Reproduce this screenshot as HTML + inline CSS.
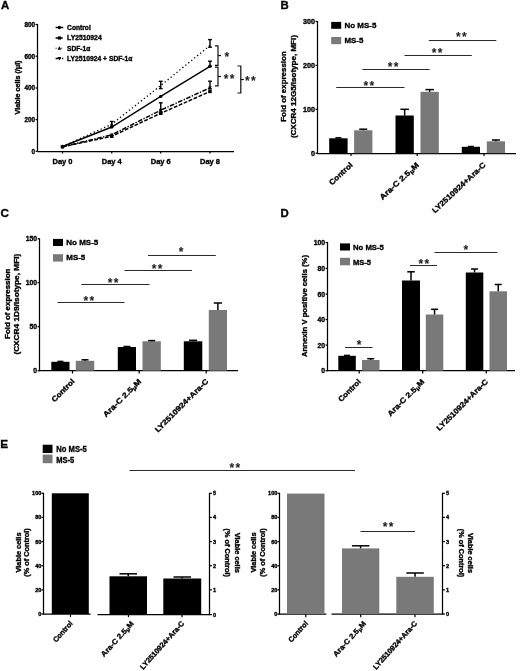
<!DOCTYPE html>
<html><head><meta charset="utf-8"><title>Figure</title>
<style>
html,body{margin:0;padding:0;background:#fff;}
body{width:520px;height:671px;overflow:hidden;}
svg{display:block;font-family:'Liberation Sans', sans-serif;}
</style></head><body>
<svg width="520" height="671" viewBox="0 0 520 671">
<defs><filter id="soft" x="0" y="0" width="520" height="671" filterUnits="userSpaceOnUse"><feGaussianBlur stdDeviation="0.35"/></filter></defs>
<rect x="0" y="0" width="520" height="671" fill="#fff"/>
<g filter="url(#soft)">
<text x="1.1" y="9.1" font-size="11.4" text-anchor="start" font-weight="bold" fill="#000" stroke="#000" stroke-width="0.35" >A</text>
<text x="280.4" y="8.95" font-size="11.4" text-anchor="start" font-weight="bold" fill="#000" stroke="#000" stroke-width="0.35" >B</text>
<text x="0.6" y="216.9" font-size="11.7" text-anchor="start" font-weight="bold" fill="#000" stroke="#000" stroke-width="0.35" >C</text>
<text x="280.4" y="216.9" font-size="11.4" text-anchor="start" font-weight="bold" fill="#000" stroke="#000" stroke-width="0.35" >D</text>
<text x="0.3" y="447.6" font-size="11.8" text-anchor="start" font-weight="bold" fill="#000" stroke="#000" stroke-width="0.35" >E</text>
<line x1="37.5" y1="24.0" x2="37.5" y2="151.8" stroke="#000" stroke-width="1.25" />
<line x1="35.6" y1="24.5" x2="37.5" y2="24.5" stroke="#000" stroke-width="1.25" />
<text x="35.1" y="26.8" font-size="6.4" text-anchor="end" font-weight="bold" fill="#000" stroke="#000" stroke-width="0.35" >800</text>
<line x1="35.6" y1="56.2" x2="37.5" y2="56.2" stroke="#000" stroke-width="1.25" />
<text x="35.1" y="58.5" font-size="6.4" text-anchor="end" font-weight="bold" fill="#000" stroke="#000" stroke-width="0.35" >600</text>
<line x1="35.6" y1="88" x2="37.5" y2="88" stroke="#000" stroke-width="1.25" />
<text x="35.1" y="90.3" font-size="6.4" text-anchor="end" font-weight="bold" fill="#000" stroke="#000" stroke-width="0.35" >400</text>
<line x1="35.6" y1="119.6" x2="37.5" y2="119.6" stroke="#000" stroke-width="1.25" />
<text x="35.1" y="121.9" font-size="6.4" text-anchor="end" font-weight="bold" fill="#000" stroke="#000" stroke-width="0.35" >200</text>
<line x1="35.6" y1="151.2" x2="37.5" y2="151.2" stroke="#000" stroke-width="1.25" />
<text x="35.1" y="153.5" font-size="6.4" text-anchor="end" font-weight="bold" fill="#000" stroke="#000" stroke-width="0.35" >0</text>
<line x1="37.4" y1="151.5" x2="234" y2="151.5" stroke="#000" stroke-width="1.25" />
<line x1="62.5" y1="151.3" x2="62.5" y2="153.5" stroke="#000" stroke-width="1.25" />
<text x="62.5" y="163.8" font-size="7.5" text-anchor="middle" font-weight="bold" fill="#000" stroke="#000" stroke-width="0.35" >Day 0</text>
<line x1="111.75" y1="151.3" x2="111.75" y2="153.5" stroke="#000" stroke-width="1.25" />
<text x="111.75" y="163.8" font-size="7.5" text-anchor="middle" font-weight="bold" fill="#000" stroke="#000" stroke-width="0.35" >Day 4</text>
<line x1="160.75" y1="151.3" x2="160.75" y2="153.5" stroke="#000" stroke-width="1.25" />
<text x="160.75" y="163.8" font-size="7.5" text-anchor="middle" font-weight="bold" fill="#000" stroke="#000" stroke-width="0.35" >Day 6</text>
<line x1="210" y1="151.3" x2="210" y2="153.5" stroke="#000" stroke-width="1.25" />
<text x="210" y="163.8" font-size="7.5" text-anchor="middle" font-weight="bold" fill="#000" stroke="#000" stroke-width="0.35" >Day 8</text>
<text x="19.8" y="87.5" font-size="7" text-anchor="middle" font-weight="bold" fill="#000" transform="rotate(-90 19.8 87.5)" textLength="54" lengthAdjust="spacingAndGlyphs" stroke="#000" stroke-width="0.35" >Viable cells (/μl)</text>
<polyline points="62.5,146.5 111.75,124.2 160.75,85.5 210,45.5" fill="none" stroke="#000" stroke-width="1.3" stroke-dasharray="1.3 2.5"/>
<polyline points="62.5,146.8 111.75,134.8 160.75,110.2 210,87.8" fill="none" stroke="#000" stroke-width="1.5" stroke-dasharray="4.6 1.5 1.3 1.5"/>
<polyline points="62.5,146.8 111.75,136.3 160.75,113.3 210,91.5" fill="none" stroke="#000" stroke-width="1.5" stroke-dasharray="3.8 1.6"/>
<polyline points="62.5,146.5 111.75,127 160.75,96.4 210,66.3" fill="none" stroke="#000" stroke-width="1.4"/>
<line x1="111.75" y1="121.5" x2="111.75" y2="126.5" stroke="#000" stroke-width="1.4" />
<line x1="109.85" y1="121.5" x2="113.65" y2="121.5" stroke="#000" stroke-width="1.4" />
<line x1="109.85" y1="126.5" x2="113.65" y2="126.5" stroke="#000" stroke-width="1.4" />
<line x1="160.75" y1="81.3" x2="160.75" y2="88.6" stroke="#000" stroke-width="1.4" />
<line x1="158.85" y1="81.3" x2="162.65" y2="81.3" stroke="#000" stroke-width="1.4" />
<line x1="158.85" y1="88.6" x2="162.65" y2="88.6" stroke="#000" stroke-width="1.4" />
<line x1="210" y1="39.6" x2="210" y2="47.2" stroke="#000" stroke-width="1.4" />
<line x1="208.1" y1="39.6" x2="211.9" y2="39.6" stroke="#000" stroke-width="1.4" />
<line x1="208.1" y1="47.2" x2="211.9" y2="47.2" stroke="#000" stroke-width="1.4" />
<line x1="210" y1="61.2" x2="210" y2="66.3" stroke="#000" stroke-width="1.4" />
<line x1="208.1" y1="61.2" x2="211.9" y2="61.2" stroke="#000" stroke-width="1.4" />
<line x1="208.1" y1="66.3" x2="211.9" y2="66.3" stroke="#000" stroke-width="1.4" />
<line x1="160.75" y1="102.8" x2="160.75" y2="112" stroke="#000" stroke-width="1.4" />
<line x1="158.85" y1="102.8" x2="162.65" y2="102.8" stroke="#000" stroke-width="1.4" />
<line x1="158.85" y1="112" x2="162.65" y2="112" stroke="#000" stroke-width="1.4" />
<line x1="210" y1="81.2" x2="210" y2="88.8" stroke="#000" stroke-width="1.4" />
<line x1="208.1" y1="81.2" x2="211.9" y2="81.2" stroke="#000" stroke-width="1.4" />
<line x1="208.1" y1="88.8" x2="211.9" y2="88.8" stroke="#000" stroke-width="1.4" />
<circle cx="62.5" cy="146.5" r="1.7" fill="#000"/>
<circle cx="111.75" cy="127" r="1.7" fill="#000"/>
<circle cx="160.75" cy="96.4" r="1.7" fill="#000"/>
<circle cx="210" cy="66.3" r="1.7" fill="#000"/>
<rect x="60.8" y="145.1" width="3.4" height="3.4" fill="#000"/>
<rect x="110.05" y="134.6" width="3.4" height="3.4" fill="#000"/>
<rect x="159.05" y="111.6" width="3.4" height="3.4" fill="#000"/>
<rect x="208.3" y="89.8" width="3.4" height="3.4" fill="#000"/>
<polygon points="62.5,144.5 60.7,147.9 64.3,147.9" fill="#000"/>
<polygon points="111.75,122.2 109.95,125.6 113.55,125.6" fill="#000"/>
<polygon points="62.5,148.8 60.7,145.4 64.3,145.4" fill="#000"/>
<polygon points="111.75,136.8 109.95,133.4 113.55,133.4" fill="#000"/>
<polygon points="160.75,112.2 158.95,108.8 162.55,108.8" fill="#000"/>
<polygon points="210,89.8 208.2,86.4 211.8,86.4" fill="#000"/>
<polyline points="215,45.8 218,45.8 218,65.3 215,65.3" fill="none" stroke="#111" stroke-width="1.2"/>
<line x1="218" y1="55.55" x2="221" y2="55.55" stroke="#111" stroke-width="1.2" />
<polyline points="215,67.2 218,67.2 218,85.8 215,85.8" fill="none" stroke="#111" stroke-width="1.2"/>
<line x1="218" y1="76.5" x2="221" y2="76.5" stroke="#111" stroke-width="1.2" />
<polyline points="237.5,66 240.8,66 240.8,93 237.5,93" fill="none" stroke="#111" stroke-width="1.2"/>
<line x1="240.8" y1="79.5" x2="243.8" y2="79.5" stroke="#111" stroke-width="1.2" />
<text x="226.8" y="60.52" font-size="12" text-anchor="middle" font-weight="bold" fill="#1a1a1a" stroke="#1a1a1a" stroke-width="0.1" >*</text>
<text x="229.7" y="82.72" font-size="12" text-anchor="middle" font-weight="bold" fill="#1a1a1a" stroke="#1a1a1a" stroke-width="0.1" letter-spacing="1.4" >**</text>
<text x="251.0" y="85.12" font-size="12" text-anchor="middle" font-weight="bold" fill="#1a1a1a" stroke="#1a1a1a" stroke-width="0.1" letter-spacing="1.4" >**</text>
<line x1="55.6" y1="27.5" x2="63.3" y2="27.5" stroke="#000" stroke-width="1.4" />
<circle cx="59.4" cy="27.5" r="1.7" fill="#000"/>
<line x1="55.6" y1="38" x2="63.3" y2="38" stroke="#000" stroke-width="1.3" stroke-dasharray="3 1.2"/>
<rect x="57.8" y="36.4" width="3.2" height="3.2" fill="#000"/>
<line x1="55.6" y1="48.3" x2="63.3" y2="48.3" stroke="#000" stroke-width="1.1" stroke-dasharray="1 1.8"/>
<polygon points="59.4,46.3 57.6,49.7 61.2,49.7" fill="#000"/>
<line x1="55.6" y1="58.5" x2="63.3" y2="58.5" stroke="#000" stroke-width="1.3" stroke-dasharray="3 1.2 1 1.2"/>
<polygon points="59.4,60.5 57.6,57.1 61.2,57.1" fill="#000"/>
<text x="67.1" y="29.9" font-size="6.7" text-anchor="start" font-weight="bold" fill="#000" textLength="23.7" lengthAdjust="spacingAndGlyphs" stroke="#000" stroke-width="0.35" >Control</text>
<text x="67.1" y="40.4" font-size="6.7" text-anchor="start" font-weight="bold" fill="#000" textLength="34.6" lengthAdjust="spacingAndGlyphs" stroke="#000" stroke-width="0.35" >LY2510924</text>
<text x="67.1" y="50.7" font-size="6.7" text-anchor="start" font-weight="bold" fill="#000" textLength="23.2" lengthAdjust="spacingAndGlyphs" stroke="#000" stroke-width="0.35" >SDF-1α</text>
<text x="67.1" y="60.9" font-size="6.7" text-anchor="start" font-weight="bold" fill="#000" textLength="65.4" lengthAdjust="spacingAndGlyphs" stroke="#000" stroke-width="0.35" >LY2510924 + SDF-1α</text>
<line x1="317.5" y1="21.0" x2="317.5" y2="153.7" stroke="#000" stroke-width="1.25" />
<line x1="315.6" y1="21.5" x2="317.5" y2="21.5" stroke="#000" stroke-width="1.25" />
<text x="315.1" y="24.09" font-size="7.2" text-anchor="end" font-weight="bold" fill="#000" stroke="#000" stroke-width="0.35" >300</text>
<line x1="315.6" y1="65.4" x2="317.5" y2="65.4" stroke="#000" stroke-width="1.25" />
<text x="315.1" y="67.99" font-size="7.2" text-anchor="end" font-weight="bold" fill="#000" stroke="#000" stroke-width="0.35" >200</text>
<line x1="315.6" y1="109.3" x2="317.5" y2="109.3" stroke="#000" stroke-width="1.25" />
<text x="315.1" y="111.89" font-size="7.2" text-anchor="end" font-weight="bold" fill="#000" stroke="#000" stroke-width="0.35" >100</text>
<line x1="315.6" y1="153.2" x2="317.5" y2="153.2" stroke="#000" stroke-width="1.25" />
<text x="315.1" y="155.79" font-size="7.2" text-anchor="end" font-weight="bold" fill="#000" stroke="#000" stroke-width="0.35" >0</text>
<line x1="317.1" y1="153.5" x2="516" y2="153.5" stroke="#000" stroke-width="1.25" />
<rect x="329.2" y="138.3" width="18.4" height="14.9" fill="#000"/>
<line x1="338.4" y1="138.3" x2="338.4" y2="137.8" stroke="#000" stroke-width="1.5" />
<line x1="335.4" y1="137.8" x2="341.4" y2="137.8" stroke="#000" stroke-width="1.5" />
<rect x="354.1" y="130.3" width="18.3" height="22.9" fill="#797979"/>
<line x1="363.25" y1="130.3" x2="363.25" y2="129.2" stroke="#000" stroke-width="1.5" />
<line x1="359.25" y1="129.2" x2="367.25" y2="129.2" stroke="#000" stroke-width="1.5" />
<rect x="395.5" y="115.5" width="18.3" height="37.7" fill="#000"/>
<line x1="404.65" y1="115.5" x2="404.65" y2="109.3" stroke="#000" stroke-width="1.5" />
<line x1="400.4" y1="109.3" x2="408.9" y2="109.3" stroke="#000" stroke-width="1.5" />
<rect x="420.5" y="91.8" width="18.3" height="61.4" fill="#797979"/>
<line x1="429.65" y1="91.8" x2="429.65" y2="89.6" stroke="#000" stroke-width="1.5" />
<line x1="425.4" y1="89.6" x2="433.9" y2="89.6" stroke="#000" stroke-width="1.5" />
<rect x="461.8" y="146.8" width="18.2" height="6.4" fill="#000"/>
<line x1="470.9" y1="146.8" x2="470.9" y2="146.5" stroke="#000" stroke-width="1.5" />
<line x1="467.9" y1="146.5" x2="473.9" y2="146.5" stroke="#000" stroke-width="1.5" />
<rect x="486.8" y="141.3" width="18.2" height="11.9" fill="#797979"/>
<line x1="495.9" y1="141.3" x2="495.9" y2="140" stroke="#000" stroke-width="1.5" />
<line x1="491.9" y1="140" x2="499.9" y2="140" stroke="#000" stroke-width="1.5" />
<line x1="336.2" y1="87.5" x2="404.5" y2="87.5" stroke="#2a2a2a" stroke-width="1.0" />
<text x="369.5" y="89.52" font-size="12" text-anchor="middle" font-weight="bold" fill="#1a1a1a" stroke="#1a1a1a" stroke-width="0.1" letter-spacing="1.4" >**</text>
<line x1="362.4" y1="69.5" x2="429.5" y2="69.5" stroke="#2a2a2a" stroke-width="1.0" />
<text x="393.7" y="71.32" font-size="12" text-anchor="middle" font-weight="bold" fill="#1a1a1a" stroke="#1a1a1a" stroke-width="0.1" letter-spacing="1.4" >**</text>
<line x1="404.5" y1="55.5" x2="471.8" y2="55.5" stroke="#2a2a2a" stroke-width="1.0" />
<text x="437.7" y="57.22" font-size="12" text-anchor="middle" font-weight="bold" fill="#1a1a1a" stroke="#1a1a1a" stroke-width="0.1" letter-spacing="1.4" >**</text>
<line x1="428.8" y1="40.5" x2="496.3" y2="40.5" stroke="#2a2a2a" stroke-width="1.0" />
<text x="462.0" y="40.52" font-size="12" text-anchor="middle" font-weight="bold" fill="#1a1a1a" stroke="#1a1a1a" stroke-width="0.1" letter-spacing="1.4" >**</text>
<rect x="331.2" y="21.9" width="10" height="6.9" fill="#000"/>
<rect x="331.2" y="37" width="10" height="7.2" fill="#797979"/>
<text x="344.5" y="28.1" font-size="8" text-anchor="start" font-weight="bold" fill="#000" textLength="31.8" lengthAdjust="spacingAndGlyphs" stroke="#000" stroke-width="0.35" >No MS-5</text>
<text x="344.5" y="43.3" font-size="8" text-anchor="start" font-weight="bold" fill="#000" textLength="18.8" lengthAdjust="spacingAndGlyphs" stroke="#000" stroke-width="0.35" >MS-5</text>
<text x="286.4" y="86.5" font-size="7.5" text-anchor="middle" font-weight="bold" fill="#000" transform="rotate(-90 286.4 86.5)" textLength="70.5" lengthAdjust="spacingAndGlyphs" stroke="#000" stroke-width="0.35" >Fold of expression</text>
<text x="296.0" y="86.6" font-size="7.5" text-anchor="middle" font-weight="bold" fill="#000" transform="rotate(-90 296.0 86.6)" textLength="103" lengthAdjust="spacingAndGlyphs" stroke="#000" stroke-width="0.35" >(CXCR4 12G5/isotype, MFI)</text>
<line x1="351" y1="153.2" x2="351" y2="156.0" stroke="#000" stroke-width="1.25" />
<text x="353.2" y="165.7" font-size="7.6" text-anchor="end" font-weight="bold" fill="#000" transform="rotate(-43 353.2 165.7)" textLength="29" lengthAdjust="spacingAndGlyphs" stroke="#000" stroke-width="0.35" >Control</text>
<line x1="417.2" y1="153.2" x2="417.2" y2="156.0" stroke="#000" stroke-width="1.25" />
<text x="419.4" y="165.7" font-size="7.6" text-anchor="end" font-weight="bold" fill="#000" transform="rotate(-43 419.4 165.7)" textLength="50.5" lengthAdjust="spacingAndGlyphs" stroke="#000" stroke-width="0.35" >Ara-C 2.5<tspan font-size="75%" dy="1">μ</tspan><tspan dy="-1">M</tspan></text>
<line x1="484" y1="153.2" x2="484" y2="156.0" stroke="#000" stroke-width="1.25" />
<text x="486.2" y="165.7" font-size="7.6" text-anchor="end" font-weight="bold" fill="#000" transform="rotate(-43 486.2 165.7)" textLength="70" lengthAdjust="spacingAndGlyphs" stroke="#000" stroke-width="0.35" >LY2510924+Ara-C</text>
<line x1="39.5" y1="238.3" x2="39.5" y2="371.2" stroke="#000" stroke-width="1.25" />
<line x1="37.6" y1="238.8" x2="39.5" y2="238.8" stroke="#000" stroke-width="1.25" />
<text x="37.1" y="241.25" font-size="6.8" text-anchor="end" font-weight="bold" fill="#000" stroke="#000" stroke-width="0.35" >150</text>
<line x1="37.6" y1="282.6" x2="39.5" y2="282.6" stroke="#000" stroke-width="1.25" />
<text x="37.1" y="285.05" font-size="6.8" text-anchor="end" font-weight="bold" fill="#000" stroke="#000" stroke-width="0.35" >100</text>
<line x1="37.6" y1="326.6" x2="39.5" y2="326.6" stroke="#000" stroke-width="1.25" />
<text x="37.1" y="329.05" font-size="6.8" text-anchor="end" font-weight="bold" fill="#000" stroke="#000" stroke-width="0.35" >50</text>
<line x1="37.6" y1="370.7" x2="39.5" y2="370.7" stroke="#000" stroke-width="1.25" />
<text x="37.1" y="373.15" font-size="6.8" text-anchor="end" font-weight="bold" fill="#000" stroke="#000" stroke-width="0.35" >0</text>
<line x1="39.1" y1="370.5" x2="238" y2="370.5" stroke="#000" stroke-width="1.25" />
<rect x="51.3" y="361.8" width="18.2" height="8.9" fill="#000"/>
<line x1="60.4" y1="361.8" x2="60.4" y2="361.4" stroke="#000" stroke-width="1.5" />
<line x1="57.4" y1="361.4" x2="63.4" y2="361.4" stroke="#000" stroke-width="1.5" />
<rect x="75.8" y="360.8" width="18.4" height="9.9" fill="#797979"/>
<line x1="85.0" y1="360.8" x2="85.0" y2="359.8" stroke="#000" stroke-width="1.5" />
<line x1="81.5" y1="359.8" x2="88.5" y2="359.8" stroke="#000" stroke-width="1.5" />
<rect x="117.8" y="347" width="18.2" height="23.7" fill="#000"/>
<line x1="126.9" y1="347" x2="126.9" y2="346.5" stroke="#000" stroke-width="1.5" />
<line x1="123.4" y1="346.5" x2="130.4" y2="346.5" stroke="#000" stroke-width="1.5" />
<rect x="142.5" y="341.3" width="18.3" height="29.4" fill="#797979"/>
<line x1="151.65" y1="341.3" x2="151.65" y2="340.6" stroke="#000" stroke-width="1.5" />
<line x1="148.15" y1="340.6" x2="155.15" y2="340.6" stroke="#000" stroke-width="1.5" />
<rect x="183.8" y="341.3" width="18.5" height="29.4" fill="#000"/>
<line x1="193.05" y1="341.3" x2="193.05" y2="340.3" stroke="#000" stroke-width="1.5" />
<line x1="189.05" y1="340.3" x2="197.05" y2="340.3" stroke="#000" stroke-width="1.5" />
<rect x="208.8" y="310" width="18.2" height="60.7" fill="#797979"/>
<line x1="217.9" y1="310" x2="217.9" y2="303" stroke="#000" stroke-width="1.5" />
<line x1="213.75" y1="303" x2="222.05" y2="303" stroke="#000" stroke-width="1.5" />
<line x1="57.5" y1="302.5" x2="124.5" y2="302.5" stroke="#2a2a2a" stroke-width="1.0" />
<text x="89.5" y="304.52" font-size="12" text-anchor="middle" font-weight="bold" fill="#1a1a1a" stroke="#1a1a1a" stroke-width="0.1" letter-spacing="1.4" >**</text>
<line x1="81.3" y1="284.5" x2="149.5" y2="284.5" stroke="#2a2a2a" stroke-width="1.0" />
<text x="113.7" y="286.52" font-size="12" text-anchor="middle" font-weight="bold" fill="#1a1a1a" stroke="#1a1a1a" stroke-width="0.1" letter-spacing="1.4" >**</text>
<line x1="124.5" y1="270.5" x2="192" y2="270.5" stroke="#2a2a2a" stroke-width="1.0" />
<text x="157.7" y="272.82" font-size="12" text-anchor="middle" font-weight="bold" fill="#1a1a1a" stroke="#1a1a1a" stroke-width="0.1" letter-spacing="1.4" >**</text>
<line x1="148" y1="255.5" x2="215.8" y2="255.5" stroke="#2a2a2a" stroke-width="1.0" />
<text x="181" y="255.72" font-size="12" text-anchor="middle" font-weight="bold" fill="#1a1a1a" stroke="#1a1a1a" stroke-width="0.1" >*</text>
<rect x="53" y="238.9" width="10" height="7.1" fill="#000"/>
<rect x="53" y="254.2" width="10" height="7.4" fill="#797979"/>
<text x="66.3" y="245.4" font-size="8" text-anchor="start" font-weight="bold" fill="#000" textLength="32" lengthAdjust="spacingAndGlyphs" stroke="#000" stroke-width="0.35" >No MS-5</text>
<text x="66.3" y="260.4" font-size="8" text-anchor="start" font-weight="bold" fill="#000" textLength="19" lengthAdjust="spacingAndGlyphs" stroke="#000" stroke-width="0.35" >MS-5</text>
<text x="9.7" y="303.8" font-size="7.3" text-anchor="middle" font-weight="bold" fill="#000" transform="rotate(-90 9.7 303.8)" textLength="70.3" lengthAdjust="spacingAndGlyphs" stroke="#000" stroke-width="0.35" >Fold of expression</text>
<text x="18.8" y="304.2" font-size="7.3" text-anchor="middle" font-weight="bold" fill="#000" transform="rotate(-90 18.8 304.2)" textLength="100.8" lengthAdjust="spacingAndGlyphs" stroke="#000" stroke-width="0.35" >(CXCR4 1D9/isotype, MFI)</text>
<line x1="72.5" y1="370.7" x2="72.5" y2="373.5" stroke="#000" stroke-width="1.25" />
<text x="75.1" y="381.9" font-size="7.4" text-anchor="end" font-weight="bold" fill="#000" transform="rotate(-45 75.1 381.9)" textLength="29" lengthAdjust="spacingAndGlyphs" stroke="#000" stroke-width="0.35" >Control</text>
<line x1="139.2" y1="370.7" x2="139.2" y2="373.5" stroke="#000" stroke-width="1.25" />
<text x="141.8" y="381.9" font-size="7.4" text-anchor="end" font-weight="bold" fill="#000" transform="rotate(-45 141.8 381.9)" textLength="50.5" lengthAdjust="spacingAndGlyphs" stroke="#000" stroke-width="0.35" >Ara-C 2.5<tspan font-size="75%" dy="1">μ</tspan><tspan dy="-1">M</tspan></text>
<line x1="206.2" y1="370.7" x2="206.2" y2="373.5" stroke="#000" stroke-width="1.25" />
<text x="208.8" y="381.9" font-size="7.4" text-anchor="end" font-weight="bold" fill="#000" transform="rotate(-45 208.8 381.9)" textLength="72" lengthAdjust="spacingAndGlyphs" stroke="#000" stroke-width="0.35" >LY2510924+Ara-C</text>
<line x1="327.5" y1="242.0" x2="327.5" y2="371.2" stroke="#000" stroke-width="1.25" />
<line x1="325.6" y1="242.5" x2="327.5" y2="242.5" stroke="#000" stroke-width="1.25" />
<text x="325.1" y="244.95" font-size="6.8" text-anchor="end" font-weight="bold" fill="#000" stroke="#000" stroke-width="0.35" >100</text>
<line x1="325.6" y1="268.4" x2="327.5" y2="268.4" stroke="#000" stroke-width="1.25" />
<text x="325.1" y="270.85" font-size="6.8" text-anchor="end" font-weight="bold" fill="#000" stroke="#000" stroke-width="0.35" >80</text>
<line x1="325.6" y1="294.1" x2="327.5" y2="294.1" stroke="#000" stroke-width="1.25" />
<text x="325.1" y="296.55" font-size="6.8" text-anchor="end" font-weight="bold" fill="#000" stroke="#000" stroke-width="0.35" >60</text>
<line x1="325.6" y1="319.5" x2="327.5" y2="319.5" stroke="#000" stroke-width="1.25" />
<text x="325.1" y="321.95" font-size="6.8" text-anchor="end" font-weight="bold" fill="#000" stroke="#000" stroke-width="0.35" >40</text>
<line x1="325.6" y1="345.1" x2="327.5" y2="345.1" stroke="#000" stroke-width="1.25" />
<text x="325.1" y="347.55" font-size="6.8" text-anchor="end" font-weight="bold" fill="#000" stroke="#000" stroke-width="0.35" >20</text>
<line x1="325.6" y1="370.7" x2="327.5" y2="370.7" stroke="#000" stroke-width="1.25" />
<text x="325.1" y="373.15" font-size="6.8" text-anchor="end" font-weight="bold" fill="#000" stroke="#000" stroke-width="0.35" >0</text>
<line x1="326.7" y1="370.5" x2="515" y2="370.5" stroke="#000" stroke-width="1.25" />
<rect x="338.3" y="355.8" width="17.5" height="14.9" fill="#000"/>
<line x1="347.05" y1="355.8" x2="347.05" y2="355.4" stroke="#000" stroke-width="1.5" />
<line x1="344.05" y1="355.4" x2="350.05" y2="355.4" stroke="#000" stroke-width="1.5" />
<rect x="362" y="360" width="17.5" height="10.7" fill="#797979"/>
<line x1="370.75" y1="360" x2="370.75" y2="358.7" stroke="#000" stroke-width="1.5" />
<line x1="367.25" y1="358.7" x2="374.25" y2="358.7" stroke="#000" stroke-width="1.5" />
<rect x="402" y="280.5" width="18" height="90.2" fill="#000"/>
<line x1="411.0" y1="280.5" x2="411.0" y2="271.8" stroke="#000" stroke-width="1.5" />
<line x1="407.25" y1="271.8" x2="414.75" y2="271.8" stroke="#000" stroke-width="1.5" />
<rect x="425.8" y="314.5" width="17.5" height="56.2" fill="#797979"/>
<line x1="434.55" y1="314.5" x2="434.55" y2="309.3" stroke="#000" stroke-width="1.5" />
<line x1="431.05" y1="309.3" x2="438.05" y2="309.3" stroke="#000" stroke-width="1.5" />
<rect x="465.8" y="272.5" width="17.5" height="98.2" fill="#000"/>
<line x1="474.55" y1="272.5" x2="474.55" y2="269" stroke="#000" stroke-width="1.5" />
<line x1="471.05" y1="269" x2="478.05" y2="269" stroke="#000" stroke-width="1.5" />
<rect x="489.5" y="291.3" width="17.5" height="79.4" fill="#797979"/>
<line x1="498.25" y1="291.3" x2="498.25" y2="284.5" stroke="#000" stroke-width="1.5" />
<line x1="494.75" y1="284.5" x2="501.75" y2="284.5" stroke="#000" stroke-width="1.5" />
<line x1="345" y1="347.5" x2="372.5" y2="347.5" stroke="#2a2a2a" stroke-width="1.0" />
<text x="359.2" y="348.82" font-size="12" text-anchor="middle" font-weight="bold" fill="#1a1a1a" stroke="#1a1a1a" stroke-width="0.1" >*</text>
<line x1="410" y1="265.5" x2="437" y2="265.5" stroke="#2a2a2a" stroke-width="1.0" />
<text x="424.5" y="268.02" font-size="12" text-anchor="middle" font-weight="bold" fill="#1a1a1a" stroke="#1a1a1a" stroke-width="0.1" letter-spacing="1.4" >**</text>
<line x1="434.5" y1="252.5" x2="497.5" y2="252.5" stroke="#2a2a2a" stroke-width="1.0" />
<text x="465.8" y="254.02" font-size="12" text-anchor="middle" font-weight="bold" fill="#1a1a1a" stroke="#1a1a1a" stroke-width="0.1" >*</text>
<rect x="340" y="243.4" width="10" height="7.1" fill="#000"/>
<rect x="340" y="257.8" width="10" height="7.5" fill="#797979"/>
<text x="353" y="249.5" font-size="7.7" text-anchor="start" font-weight="bold" fill="#000" textLength="30.8" lengthAdjust="spacingAndGlyphs" stroke="#000" stroke-width="0.35" >No MS-5</text>
<text x="353" y="264.5" font-size="7.7" text-anchor="start" font-weight="bold" fill="#000" textLength="18" lengthAdjust="spacingAndGlyphs" stroke="#000" stroke-width="0.35" >MS-5</text>
<text x="306.8" y="306" font-size="7.3" text-anchor="middle" font-weight="bold" fill="#000" transform="rotate(-90 306.8 306)" textLength="102" lengthAdjust="spacingAndGlyphs" stroke="#000" stroke-width="0.35" >Annexin V positive cells (%)</text>
<line x1="359.2" y1="370.7" x2="359.2" y2="373.5" stroke="#000" stroke-width="1.25" />
<text x="361.4" y="382.2" font-size="7.5" text-anchor="end" font-weight="bold" fill="#000" transform="rotate(-45 361.4 382.2)" textLength="28.5" lengthAdjust="spacingAndGlyphs" stroke="#000" stroke-width="0.35" >Control</text>
<line x1="422.7" y1="370.7" x2="422.7" y2="373.5" stroke="#000" stroke-width="1.25" />
<text x="424.9" y="382.2" font-size="7.5" text-anchor="end" font-weight="bold" fill="#000" transform="rotate(-45 424.9 382.2)" textLength="48.8" lengthAdjust="spacingAndGlyphs" stroke="#000" stroke-width="0.35" >Ara-C 2.5<tspan font-size="75%" dy="1">μ</tspan><tspan dy="-1">M</tspan></text>
<line x1="486.3" y1="370.7" x2="486.3" y2="373.5" stroke="#000" stroke-width="1.25" />
<text x="488.5" y="382.2" font-size="7.5" text-anchor="end" font-weight="bold" fill="#000" transform="rotate(-45 488.5 382.2)" textLength="69.2" lengthAdjust="spacingAndGlyphs" stroke="#000" stroke-width="0.35" >LY2510924+Ara-C</text>
<rect x="42.7" y="444.7" width="9.8" height="8.3" fill="#000"/>
<rect x="42.7" y="454.6" width="9.8" height="8.6" fill="#797979"/>
<text x="56.3" y="452.1" font-size="8.8" text-anchor="start" font-weight="bold" fill="#000" textLength="30.5" lengthAdjust="spacingAndGlyphs" stroke="#000" stroke-width="0.35" >No MS-5</text>
<text x="56.3" y="462.6" font-size="8.8" text-anchor="start" font-weight="bold" fill="#000" textLength="18" lengthAdjust="spacingAndGlyphs" stroke="#000" stroke-width="0.35" >MS-5</text>
<line x1="129.5" y1="470.5" x2="355" y2="470.5" stroke="#2a2a2a" stroke-width="1.0" />
<text x="235.5" y="471.52" font-size="12" text-anchor="middle" font-weight="bold" fill="#1a1a1a" stroke="#1a1a1a" stroke-width="0.1" letter-spacing="1.4" >**</text>
<line x1="43.5" y1="492.8" x2="43.5" y2="614.5" stroke="#000" stroke-width="1.25" />
<line x1="41.5" y1="493.3" x2="43.5" y2="493.3" stroke="#000" stroke-width="1.25" />
<text x="41.4" y="495.32" font-size="5.6" text-anchor="end" font-weight="bold" fill="#000" stroke="#000" stroke-width="0.35" >100</text>
<line x1="41.5" y1="517.44" x2="43.5" y2="517.44" stroke="#000" stroke-width="1.25" />
<text x="41.4" y="519.46" font-size="5.6" text-anchor="end" font-weight="bold" fill="#000" stroke="#000" stroke-width="0.35" >80</text>
<line x1="41.5" y1="541.58" x2="43.5" y2="541.58" stroke="#000" stroke-width="1.25" />
<text x="41.4" y="543.6" font-size="5.6" text-anchor="end" font-weight="bold" fill="#000" stroke="#000" stroke-width="0.35" >60</text>
<line x1="41.5" y1="565.72" x2="43.5" y2="565.72" stroke="#000" stroke-width="1.25" />
<text x="41.4" y="567.74" font-size="5.6" text-anchor="end" font-weight="bold" fill="#000" stroke="#000" stroke-width="0.35" >40</text>
<line x1="41.5" y1="589.86" x2="43.5" y2="589.86" stroke="#000" stroke-width="1.25" />
<text x="41.4" y="591.88" font-size="5.6" text-anchor="end" font-weight="bold" fill="#000" stroke="#000" stroke-width="0.35" >20</text>
<line x1="41.5" y1="614.0" x2="43.5" y2="614.0" stroke="#000" stroke-width="1.25" />
<text x="41.4" y="616.02" font-size="5.6" text-anchor="end" font-weight="bold" fill="#000" stroke="#000" stroke-width="0.35" >0</text>
<line x1="43.3" y1="614" x2="90.6" y2="614" stroke="#000" stroke-width="1.25" />
<line x1="97.5" y1="614.6" x2="209.9" y2="614.6" stroke="#000" stroke-width="1.25" />
<line x1="209.5" y1="492.8" x2="209.5" y2="615.1" stroke="#000" stroke-width="1.25" />
<line x1="209.5" y1="493.3" x2="211.9" y2="493.3" stroke="#000" stroke-width="1.25" />
<text x="213.1" y="495.32" font-size="5.6" text-anchor="start" font-weight="bold" fill="#000" stroke="#000" stroke-width="0.35" >5</text>
<line x1="209.5" y1="517.44" x2="211.9" y2="517.44" stroke="#000" stroke-width="1.25" />
<text x="213.1" y="519.46" font-size="5.6" text-anchor="start" font-weight="bold" fill="#000" stroke="#000" stroke-width="0.35" >4</text>
<line x1="209.5" y1="541.58" x2="211.9" y2="541.58" stroke="#000" stroke-width="1.25" />
<text x="213.1" y="543.6" font-size="5.6" text-anchor="start" font-weight="bold" fill="#000" stroke="#000" stroke-width="0.35" >3</text>
<line x1="209.5" y1="565.72" x2="211.9" y2="565.72" stroke="#000" stroke-width="1.25" />
<text x="213.1" y="567.74" font-size="5.6" text-anchor="start" font-weight="bold" fill="#000" stroke="#000" stroke-width="0.35" >2</text>
<line x1="209.5" y1="589.86" x2="211.9" y2="589.86" stroke="#000" stroke-width="1.25" />
<text x="213.1" y="591.88" font-size="5.6" text-anchor="start" font-weight="bold" fill="#000" stroke="#000" stroke-width="0.35" >1</text>
<line x1="209.5" y1="614.6" x2="211.9" y2="614.6" stroke="#000" stroke-width="1.25" />
<text x="213.1" y="616.62" font-size="5.6" text-anchor="start" font-weight="bold" fill="#000" stroke="#000" stroke-width="0.35" >0</text>
<rect x="51.8" y="493.3" width="37.0" height="120.7" fill="#000"/>
<rect x="109.5" y="576.3" width="37.5" height="38.3" fill="#000"/>
<line x1="128.25" y1="576.3" x2="128.25" y2="573.8" stroke="#000" stroke-width="1.5" />
<line x1="119.5" y1="573.8" x2="137.0" y2="573.8" stroke="#000" stroke-width="1.5" />
<rect x="163.3" y="578.5" width="37.9" height="36.1" fill="#000"/>
<line x1="182.25" y1="578.5" x2="182.25" y2="577" stroke="#000" stroke-width="1.5" />
<line x1="173.5" y1="577" x2="191.0" y2="577" stroke="#000" stroke-width="1.5" />
<line x1="70.5" y1="614.3" x2="70.5" y2="617.2" stroke="#000" stroke-width="1.2" />
<text x="73.2" y="623.8" font-size="7.3" text-anchor="end" font-weight="bold" fill="#000" transform="rotate(-48 73.2 623.8)" textLength="25.5" lengthAdjust="spacingAndGlyphs" stroke="#000" stroke-width="0.35" >Control</text>
<line x1="128.5" y1="614.3" x2="128.5" y2="617.2" stroke="#000" stroke-width="1.2" />
<text x="134.2" y="623.8" font-size="7.3" text-anchor="end" font-weight="bold" fill="#000" transform="rotate(-48 134.2 623.8)" textLength="45" lengthAdjust="spacingAndGlyphs" stroke="#000" stroke-width="0.35" >Ara-C 2.5<tspan font-size="75%" dy="1">μ</tspan><tspan dy="-1">M</tspan></text>
<line x1="182" y1="614.3" x2="182" y2="617.2" stroke="#000" stroke-width="1.2" />
<text x="184.7" y="623.8" font-size="7.3" text-anchor="end" font-weight="bold" fill="#000" transform="rotate(-48 184.7 623.8)" textLength="62" lengthAdjust="spacingAndGlyphs" stroke="#000" stroke-width="0.35" >LY2510924+Ara-C</text>
<line x1="279.5" y1="492.8" x2="279.5" y2="614.5" stroke="#000" stroke-width="1.25" />
<line x1="277.5" y1="493.3" x2="279.5" y2="493.3" stroke="#000" stroke-width="1.25" />
<text x="277.4" y="495.32" font-size="5.6" text-anchor="end" font-weight="bold" fill="#000" stroke="#000" stroke-width="0.35" >100</text>
<line x1="277.5" y1="517.44" x2="279.5" y2="517.44" stroke="#000" stroke-width="1.25" />
<text x="277.4" y="519.46" font-size="5.6" text-anchor="end" font-weight="bold" fill="#000" stroke="#000" stroke-width="0.35" >80</text>
<line x1="277.5" y1="541.58" x2="279.5" y2="541.58" stroke="#000" stroke-width="1.25" />
<text x="277.4" y="543.6" font-size="5.6" text-anchor="end" font-weight="bold" fill="#000" stroke="#000" stroke-width="0.35" >60</text>
<line x1="277.5" y1="565.72" x2="279.5" y2="565.72" stroke="#000" stroke-width="1.25" />
<text x="277.4" y="567.74" font-size="5.6" text-anchor="end" font-weight="bold" fill="#000" stroke="#000" stroke-width="0.35" >40</text>
<line x1="277.5" y1="589.86" x2="279.5" y2="589.86" stroke="#000" stroke-width="1.25" />
<text x="277.4" y="591.88" font-size="5.6" text-anchor="end" font-weight="bold" fill="#000" stroke="#000" stroke-width="0.35" >20</text>
<line x1="277.5" y1="614.0" x2="279.5" y2="614.0" stroke="#000" stroke-width="1.25" />
<text x="277.4" y="616.02" font-size="5.6" text-anchor="end" font-weight="bold" fill="#000" stroke="#000" stroke-width="0.35" >0</text>
<line x1="278.5" y1="614" x2="326.3" y2="614" stroke="#000" stroke-width="1.25" />
<line x1="331.5" y1="614.0" x2="442.9" y2="614.0" stroke="#000" stroke-width="1.25" />
<line x1="442.5" y1="492.8" x2="442.5" y2="614.5" stroke="#000" stroke-width="1.25" />
<line x1="442.5" y1="493.3" x2="444.9" y2="493.3" stroke="#000" stroke-width="1.25" />
<text x="446.1" y="495.32" font-size="5.6" text-anchor="start" font-weight="bold" fill="#000" stroke="#000" stroke-width="0.35" >5</text>
<line x1="442.5" y1="517.44" x2="444.9" y2="517.44" stroke="#000" stroke-width="1.25" />
<text x="446.1" y="519.46" font-size="5.6" text-anchor="start" font-weight="bold" fill="#000" stroke="#000" stroke-width="0.35" >4</text>
<line x1="442.5" y1="541.58" x2="444.9" y2="541.58" stroke="#000" stroke-width="1.25" />
<text x="446.1" y="543.6" font-size="5.6" text-anchor="start" font-weight="bold" fill="#000" stroke="#000" stroke-width="0.35" >3</text>
<line x1="442.5" y1="565.72" x2="444.9" y2="565.72" stroke="#000" stroke-width="1.25" />
<text x="446.1" y="567.74" font-size="5.6" text-anchor="start" font-weight="bold" fill="#000" stroke="#000" stroke-width="0.35" >2</text>
<line x1="442.5" y1="589.86" x2="444.9" y2="589.86" stroke="#000" stroke-width="1.25" />
<text x="446.1" y="591.88" font-size="5.6" text-anchor="start" font-weight="bold" fill="#000" stroke="#000" stroke-width="0.35" >1</text>
<line x1="442.5" y1="614.0" x2="444.9" y2="614.0" stroke="#000" stroke-width="1.25" />
<text x="446.1" y="616.02" font-size="5.6" text-anchor="start" font-weight="bold" fill="#000" stroke="#000" stroke-width="0.35" >0</text>
<rect x="287" y="493.6" width="37.5" height="120.4" fill="#797979"/>
<rect x="342" y="548.4" width="37.3" height="65.6" fill="#797979"/>
<line x1="360.65" y1="548.4" x2="360.65" y2="545.8" stroke="#000" stroke-width="1.5" />
<line x1="351.9" y1="545.8" x2="369.4" y2="545.8" stroke="#000" stroke-width="1.5" />
<rect x="396.3" y="576.8" width="37.5" height="37.2" fill="#797979"/>
<line x1="415.05" y1="576.8" x2="415.05" y2="573" stroke="#000" stroke-width="1.5" />
<line x1="406.3" y1="573" x2="423.8" y2="573" stroke="#000" stroke-width="1.5" />
<line x1="305.8" y1="614.3" x2="305.8" y2="617.2" stroke="#000" stroke-width="1.2" />
<text x="308.5" y="623.8" font-size="7.3" text-anchor="end" font-weight="bold" fill="#000" transform="rotate(-48 308.5 623.8)" textLength="25.5" lengthAdjust="spacingAndGlyphs" stroke="#000" stroke-width="0.35" >Control</text>
<line x1="360.7" y1="614.3" x2="360.7" y2="617.2" stroke="#000" stroke-width="1.2" />
<text x="366.4" y="623.8" font-size="7.3" text-anchor="end" font-weight="bold" fill="#000" transform="rotate(-48 366.4 623.8)" textLength="45" lengthAdjust="spacingAndGlyphs" stroke="#000" stroke-width="0.35" >Ara-C 2.5<tspan font-size="75%" dy="1">μ</tspan><tspan dy="-1">M</tspan></text>
<line x1="415" y1="614.3" x2="415" y2="617.2" stroke="#000" stroke-width="1.2" />
<text x="417.7" y="623.8" font-size="7.3" text-anchor="end" font-weight="bold" fill="#000" transform="rotate(-48 417.7 623.8)" textLength="62" lengthAdjust="spacingAndGlyphs" stroke="#000" stroke-width="0.35" >LY2510924+Ara-C</text>
<line x1="360.5" y1="531.5" x2="415" y2="531.5" stroke="#2a2a2a" stroke-width="1.0" />
<text x="388.7" y="530.52" font-size="12" text-anchor="middle" font-weight="bold" fill="#1a1a1a" stroke="#1a1a1a" stroke-width="0.1" letter-spacing="1.4" >**</text>
<text x="20.6" y="552.5" font-size="6.9" text-anchor="middle" font-weight="bold" fill="#000" transform="rotate(-90 20.6 552.5)" textLength="40" lengthAdjust="spacingAndGlyphs" stroke="#000" stroke-width="0.35" >Viable cells</text>
<text x="29.4" y="552.5" font-size="6.9" text-anchor="middle" font-weight="bold" fill="#000" transform="rotate(-90 29.4 552.5)" textLength="48.5" lengthAdjust="spacingAndGlyphs" stroke="#000" stroke-width="0.35" >(% of Control)</text>
<text x="256.3" y="552.5" font-size="6.9" text-anchor="middle" font-weight="bold" fill="#000" transform="rotate(-90 256.3 552.5)" textLength="40" lengthAdjust="spacingAndGlyphs" stroke="#000" stroke-width="0.35" >Viable cells</text>
<text x="264.6" y="552.5" font-size="6.9" text-anchor="middle" font-weight="bold" fill="#000" transform="rotate(-90 264.6 552.5)" textLength="48.5" lengthAdjust="spacingAndGlyphs" stroke="#000" stroke-width="0.35" >(% of Control)</text>
<text x="234.8" y="552.8" font-size="6.9" text-anchor="middle" font-weight="bold" fill="#000" transform="rotate(90 234.8 552.8)" textLength="40" lengthAdjust="spacingAndGlyphs" stroke="#000" stroke-width="0.35" >Viable cells</text>
<text x="225.3" y="552.8" font-size="6.9" text-anchor="middle" font-weight="bold" fill="#000" transform="rotate(90 225.3 552.8)" textLength="48.5" lengthAdjust="spacingAndGlyphs" stroke="#000" stroke-width="0.35" >(% of Control)</text>
<text x="467.8" y="553" font-size="6.9" text-anchor="middle" font-weight="bold" fill="#000" transform="rotate(90 467.8 553)" textLength="40" lengthAdjust="spacingAndGlyphs" stroke="#000" stroke-width="0.35" >Viable cells</text>
<text x="458.6" y="553" font-size="6.9" text-anchor="middle" font-weight="bold" fill="#000" transform="rotate(90 458.6 553)" textLength="48.5" lengthAdjust="spacingAndGlyphs" stroke="#000" stroke-width="0.35" >(% of Control)</text>
</g>
</svg>
</body></html>
